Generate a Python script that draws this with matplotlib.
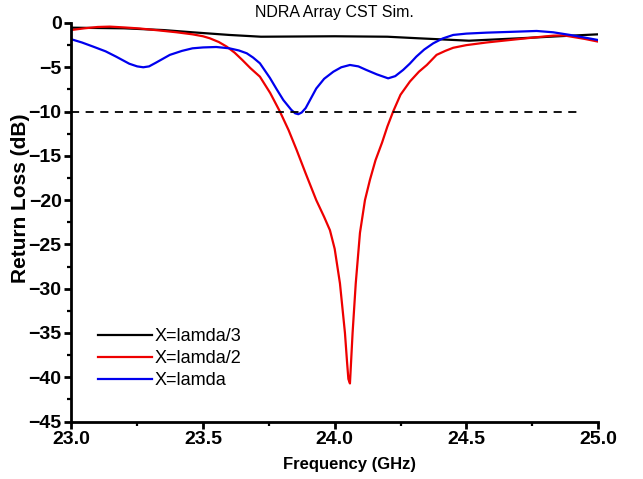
import matplotlib
matplotlib.use("Agg")
import matplotlib.pyplot as plt
from matplotlib.ticker import MultipleLocator

plt.rcParams["font.family"] = ["Liberation Sans", "DejaVu Sans"]

# X = lamda/3
freq_l3 = [23.0, 23.2, 23.35, 23.46, 23.6, 23.72, 24.0, 24.2, 24.32, 24.51, 24.7, 24.85, 25.0]
rl_l3 = [-0.53, -0.6, -0.8, -1.05, -1.35, -1.55, -1.5, -1.55, -1.73, -2.0, -1.73, -1.5, -1.28]

# X = lamda/2
freq_l2 = [23.0, 23.05, 23.1, 23.146, 23.2, 23.26, 23.336, 23.4, 23.46, 23.5, 23.526, 23.56,
           23.59, 23.62, 23.65, 23.68, 23.716, 23.755, 23.792, 23.825, 23.855, 23.89, 23.93,
           23.96, 23.982, 24.0, 24.02, 24.039, 24.047, 24.052, 24.058, 24.068, 24.08, 24.096,
           24.115, 24.134, 24.155, 24.18, 24.2, 24.222, 24.25, 24.286, 24.32, 24.35, 24.387,
           24.42, 24.45, 24.5, 24.577, 24.64, 24.704, 24.77, 24.83, 24.87, 24.9, 24.95, 25.0]
rl_l2 = [-0.79, -0.6, -0.45, -0.41, -0.5, -0.62, -0.85, -1.05, -1.28, -1.5, -1.73, -2.15,
         -2.67, -3.35, -4.2, -5.1, -6.06, -7.9, -10.0, -12.1, -14.3, -17.0, -20.0,
         -21.9, -23.4, -25.5, -29.4, -35.0, -38.3, -40.2, -40.7, -35.0, -29.4, -23.7,
         -20.0, -17.7, -15.5, -13.5, -11.7, -10.0, -8.1, -6.6, -5.5, -4.74, -3.6,
         -3.15, -2.8, -2.5, -2.2, -2.0, -1.8, -1.6, -1.43, -1.4, -1.55, -1.8, -2.1]

# X = lamda
freq_l1 = [23.0, 23.04, 23.083, 23.13, 23.17, 23.22, 23.25, 23.273, 23.295, 23.32, 23.374,
           23.42, 23.46, 23.5, 23.55, 23.6, 23.636, 23.666, 23.69, 23.716, 23.754, 23.78,
           23.805, 23.835, 23.85, 23.862, 23.875, 23.89, 23.91, 23.93, 23.96, 23.995, 24.025,
           24.058, 24.09, 24.12, 24.16, 24.203, 24.23, 24.26, 24.285, 24.31, 24.34, 24.374,
           24.41, 24.45, 24.5, 24.577, 24.67, 24.767, 24.83, 24.894, 24.95, 25.0]
rl_l1 = [-1.84, -2.2, -2.67, -3.2, -3.8, -4.6, -4.9, -5.0, -4.9, -4.5, -3.6,
         -3.15, -2.86, -2.76, -2.71, -2.86, -3.1, -3.42, -3.9, -4.55, -6.2, -7.5,
         -8.7, -9.8, -10.2, -10.3, -10.1, -9.6, -8.5, -7.4, -6.3, -5.5, -5.0,
         -4.74, -4.9, -5.3, -5.8, -6.25, -6.0, -5.3, -4.6, -3.8, -3.0, -2.3,
         -1.75, -1.35, -1.2, -1.09, -1.0, -0.9, -1.05, -1.35, -1.65, -1.92]

threshold = -10
threshold_span = [23.0, 24.93]

fig = plt.figure(figsize=(6.43, 4.79), dpi=100)
ax = fig.add_axes([0.111, 0.120, 0.819, 0.832])

ax.plot(freq_l3, rl_l3, color="black", linewidth=1.6, label="X=lamda/3")
ax.plot(freq_l2, rl_l2, color="#ee0000", linewidth=1.6, label="X=lamda/2")
ax.plot(freq_l1, rl_l1, color="#0000ee", linewidth=1.6, label="X=lamda")
ax.plot(threshold_span, [threshold, threshold], color="black",
        linestyle=(0, (4.5, 3.6)), linewidth=1.3)

ax.set_xlim(23.0, 25.0)
ax.set_ylim(-45, 0)
ax.xaxis.set_major_locator(MultipleLocator(0.5))
ax.xaxis.set_minor_locator(MultipleLocator(0.25))
ax.yaxis.set_major_locator(MultipleLocator(5))
ax.yaxis.set_minor_locator(MultipleLocator(2.5))

for side in ["top", "right"]:
    ax.spines[side].set_visible(False)
for side in ["left", "bottom"]:
    ax.spines[side].set_linewidth(2)
ax.tick_params(which="major", direction="out", length=5, width=2, labelsize=14, pad=2)
ax.tick_params(which="minor", direction="out", length=3, width=1.6)
for lbl in ax.get_xticklabels() + ax.get_yticklabels():
    lbl.set_fontweight("bold")

ax.set_xlabel("Frequency (GHz)", fontsize=12, fontweight="bold", va="center")
ax.set_ylabel("Return Loss (dB)", fontsize=15, fontweight="bold", va="center")
ax.xaxis.set_label_coords(0.529, -0.109)
ax.yaxis.set_label_coords(-0.097, 0.56)
ax.set_title("NDRA Array CST Sim.", fontsize=11.5, pad=4)

ax.legend(loc="upper left", bbox_to_anchor=(0.02, 0.275), frameon=False,
          handlelength=3.0, handletextpad=0.1, labelspacing=0.28,
          prop={"size": 13})

fig.savefig("out.png", dpi=100)
